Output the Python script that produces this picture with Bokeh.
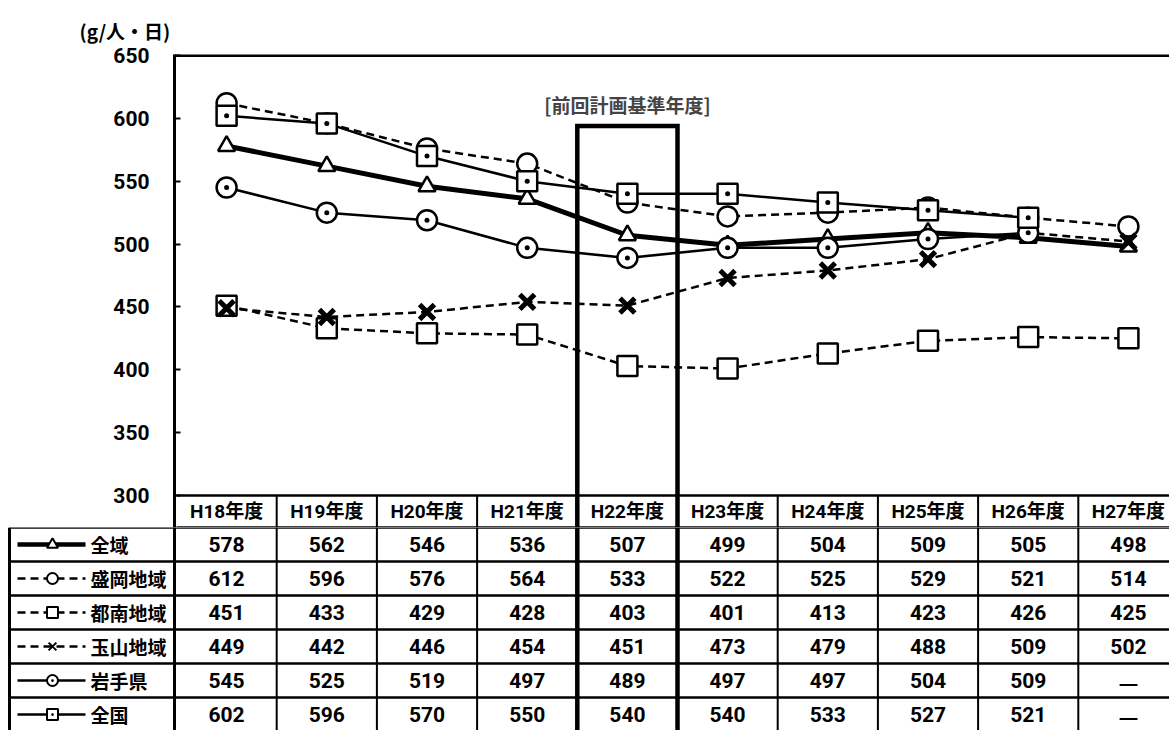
from bokeh.plotting import figure
from bokeh.models import Range1d, FixedTicker, Label
from bokeh.layouts import column
from bokeh.embed import file_html
from bokeh.resources import INLINE
from bokeh.core.properties import value

# ---------------- data ----------------
years = ["H18年度", "H19年度", "H20年度", "H21年度", "H22年度",
         "H23年度", "H24年度", "H25年度", "H26年度", "H27年度"]
series_names = ["全域", "盛岡地域", "都南地域", "玉山地域", "岩手県", "全国"]
zeniki = [578, 562, 546, 536, 507, 499, 504, 509, 505, 498]
morioka = [612, 596, 576, 564, 533, 522, 525, 529, 521, 514]
tonan = [451, 433, 429, 428, 403, 401, 413, 423, 426, 425]
tamayama = [449, 442, 446, 454, 451, 473, 479, 488, 509, 502]
iwate = [545, 525, 519, 497, 489, 497, 497, 504, 509, None]
zenkoku = [602, 596, 570, 550, 540, 540, 533, 527, 521, None]
y_ticks = [300, 350, 400, 450, 500, 550, 600, 650]
unit_label = "(g/人・日)"
base_label = "[前回計画基準年度]"
base_year = "H22年度"
base_box_top = 594
missing_text = "—"

series_values = [zeniki, morioka, tonan, tamayama, iwate, zenkoku]

# ---------------- styles / layout ----------------
NUM_FONT = "Roboto, 'Noto Sans CJK JP', sans-serif"
CJK_FONT = "'Noto Sans CJK JP', sans-serif"
styles = [
    dict(lw=5, dash="solid", marker="triangle", size=17, mlw=2.5),
    dict(lw=2.5, dash="8 5", marker="circle", size=20, mlw=2.5),
    dict(lw=2.5, dash="8 5", marker="square", size=20, mlw=2.5),
    dict(lw=2.5, dash="8 5", marker="x", size=21, mlw=5),
    dict(lw=2.5, dash="solid", marker="circle_dot", size=20, mlw=2.5),
    dict(lw=2.5, dash="solid", marker="square_dot", size=20, mlw=2.5),
]

W = 1169
HA = 527
HB = 203
COL = 100.2          # px per column
PX = 440 / 350       # px per value unit
A_LEFT = 174
A_TOP = 54
X_END = (W - A_LEFT - 2) / COL
XA0 = -2 / COL
XB0 = -(A_LEFT + 2) / COL
Y_END = 650 + 1 / PX
Y0 = Y_END - (HA - A_TOP) / PX
ROW_H = 34

n = len(years)
xc = [i + 0.5 for i in range(n)]
bi = years.index(base_year)

# ---------------- chart figure ----------------
p = figure(width=W, height=HA, x_range=Range1d(XA0, X_END), y_range=Range1d(Y0, Y_END),
           output_backend="svg", toolbar_location=None, x_axis_location=None,
           min_border_left=A_LEFT, min_border_top=A_TOP, min_border_bottom=0, min_border_right=0,
           title=unit_label)
p.frame_align = False
p.title.align = "left"
p.title.offset = -95
p.title.standoff = 21
p.title.text_font = CJK_FONT
p.title.text_font_style = "bold"
p.title.text_font_size = "19px"
p.title.text_color = "black"
p.outline_line_color = None
p.grid.visible = False
p.background_fill_color = "white"
p.border_fill_color = "white"
ax = p.yaxis[0]
ax.ticker = FixedTicker(ticks=y_ticks)
ax.axis_line_width = 3
ax.major_tick_in = 6
ax.major_tick_out = 0
ax.major_tick_line_width = 2
ax.minor_tick_in = 0
ax.minor_tick_out = 0
ax.major_label_standoff = 25
ax.major_label_text_font = NUM_FONT
ax.major_label_text_font_style = "bold"
ax.major_label_text_font_size = "21px"
ax.major_label_text_color = "black"

# top border
p.segment(x0=[XA0], y0=[650], x1=[X_END], y1=[650], line_color="black", line_width=3)

# header row (below value 300)
p.segment(x0=[0], y0=[300], x1=[X_END], y1=[300], line_color="black", line_width=2.5)
p.segment(x0=[0], y0=[Y0], x1=[X_END], y1=[Y0], line_color="black", line_width=2.5)
vx = [i for i in range(1, n + 1) if i not in (bi, bi + 1)]
p.segment(x0=vx, y0=[Y0] * len(vx), x1=vx, y1=[300] * len(vx), line_color="black", line_width=2)
p.text(x=xc, y=[(Y0 + 300) / 2] * n, text=years, text_align="center", text_baseline="middle",
       text_font=value(NUM_FONT), text_font_style="bold", text_font_size="19px", text_color="black")

# base-year box
p.line(x=[bi, bi, bi + 1, bi + 1], y=[Y0, base_box_top, base_box_top, Y0],
       line_color="black", line_width=4.5, line_join="miter")
p.add_layout(Label(x=bi + 0.5, y=611, text=base_label, text_align="center", text_baseline="middle",
                   text_font=CJK_FONT, text_font_style="bold", text_font_size="19px"))

# series
for vals, st in zip(series_values, styles):
    xs = [x for x, v in zip(xc, vals) if v is not None]
    ys = [v for v in vals if v is not None]
    p.line(xs, ys, line_color="black", line_width=st["lw"], line_dash=st["dash"])
for vals, st in zip(series_values, styles):
    xs = [x for x, v in zip(xc, vals) if v is not None]
    ys = [v for v in vals if v is not None]
    p.scatter(xs, ys, marker=st["marker"], size=st["size"], fill_color="white",
              line_color="black", line_width=st["mlw"])

# ---------------- table figure ----------------
t = figure(width=W, height=HB, x_range=Range1d(XB0, X_END), y_range=Range1d(HB, 0),
           output_backend="svg", toolbar_location=None, x_axis_location=None, y_axis_location=None,
           min_border=0)
t.frame_align = False
t.outline_line_color = None
t.grid.visible = False
t.background_fill_color = "white"
t.border_fill_color = "white"

XL = (9 - 176) / COL
nr = len(series_names)
hy = [ROW_H * i for i in range(nr + 1)]
t.segment(x0=[XL] * len(hy), y0=hy, x1=[X_END] * len(hy), y1=hy, line_color="black", line_width=2.5)
t.segment(x0=[XL], y0=[0], x1=[XL], y1=[HB], line_color="black", line_width=3)
t.segment(x0=[XA0], y0=[0], x1=[XA0], y1=[HB], line_color="black", line_width=3)
vx2 = [i for i in range(1, n + 1) if i not in (bi, bi + 1)]
t.segment(x0=vx2, y0=[0] * len(vx2), x1=vx2, y1=[HB] * len(vx2), line_color="black", line_width=2)
t.segment(x0=[bi, bi + 1], y0=[0, 0], x1=[bi, bi + 1], y1=[HB, HB], line_color="black", line_width=4.5)

# legend samples and row labels
LEG_X0 = (17 - 176) / COL
LEG_X1 = (85 - 176) / COL
LEG_M = (52 - 176) / COL
LAB_X = (90 - 176) / COL
for r, (name, st) in enumerate(zip(series_names, styles)):
    yc = ROW_H * r + ROW_H / 2
    t.line([LEG_X0, LEG_X1], [yc, yc], line_color="black", line_width=min(st["lw"], 4.5),
           line_dash=st["dash"])
    t.scatter([LEG_M], [yc], marker=st["marker"], size=11, fill_color="white",
              line_color="black", line_width=2)
ryc = [ROW_H * r + ROW_H / 2 for r in range(nr)]
t.text(x=[LAB_X] * nr, y=ryc, text=series_names, text_align="left", text_baseline="middle",
       text_font=value(CJK_FONT), text_font_style="bold", text_font_size="19px", text_color="black")

cx, cy, ct = [], [], []
mx, my = [], []
for r, vals in enumerate(series_values):
    for i, v in enumerate(vals):
        if v is None:
            mx.append(xc[i])
            my.append(ROW_H * r + ROW_H / 2)
        else:
            cx.append(xc[i])
            cy.append(ROW_H * r + ROW_H / 2)
            ct.append(str(v))
t.text(x=cx, y=cy, text=ct, text_align="center", text_baseline="middle",
       text_font=value(NUM_FONT), text_font_style="bold", text_font_size="21px", text_color="black")
t.text(x=mx, y=my, text=[missing_text] * len(mx), text_align="center", text_baseline="middle",
       text_font=value(CJK_FONT), text_font_style="bold", text_font_size="22px", text_color="black")

layout = column(p, t, spacing=0)
open("out.html", "w").write(file_html(layout, INLINE))
